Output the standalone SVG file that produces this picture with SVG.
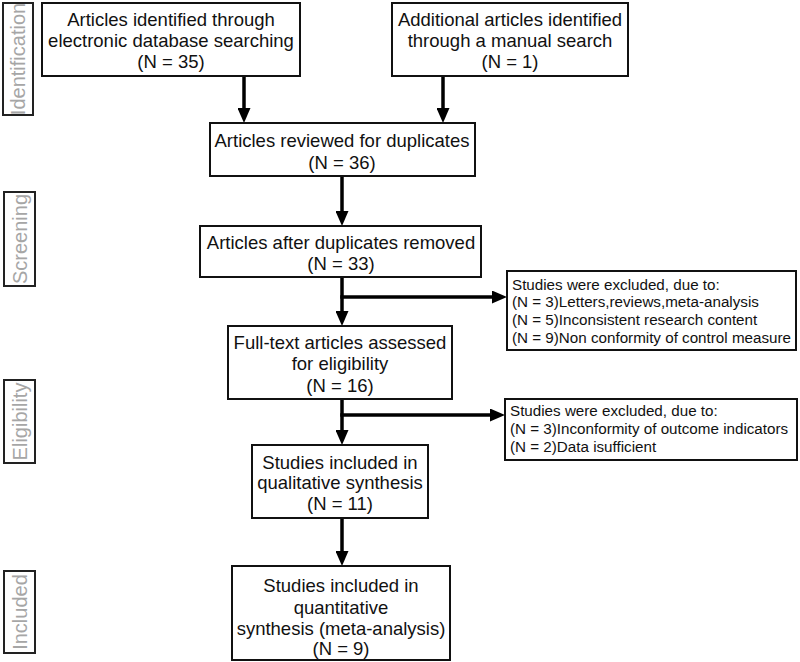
<svg xmlns="http://www.w3.org/2000/svg" width="800" height="662" viewBox="0 0 800 662">
<style>
.box{fill:#fff;stroke:#111;stroke-width:2}
.t{font-family:"Liberation Sans",Arial,sans-serif;font-size:18.5px;fill:#111;text-anchor:middle}
.e{font-family:"Liberation Sans",Arial,sans-serif;font-size:15.2px;fill:#111}
.side{fill:#fff;stroke:#222;stroke-width:2}
.s{font-family:"Liberation Sans",Arial,sans-serif;font-size:20px;fill:#a6a6a6;text-anchor:middle}
.c{stroke:#000;stroke-width:3.5;fill:none}
</style>
<defs>
<marker id="ah" markerUnits="userSpaceOnUse" markerWidth="15" markerHeight="13" refX="0" refY="6.5" orient="auto">
<path d="M0,0 L15,6.5 L0,13 z" fill="#000"/>
</marker>
</defs>
<rect width="800" height="662" fill="#fff"/>

<g id="side-identification"><rect class="side" x="3" y="3" width="30" height="112"/><text class="s" transform="translate(25,59) rotate(-90)">Identification</text></g>
<g id="side-screening"><rect class="side" x="4" y="192" width="31" height="94"/><text class="s" transform="translate(26.5,239) rotate(-90)">Screening</text></g>
<g id="side-eligibility"><rect class="side" x="4" y="380" width="31" height="83"/><text class="s" transform="translate(26.5,421.5) rotate(-90)">Eligibility</text></g>
<g id="side-included"><rect class="side" x="4" y="571" width="31" height="82"/><text class="s" transform="translate(26.5,612) rotate(-90)">Included</text></g>

<g id="connectors">
<line class="c" x1="244" y1="76" x2="244" y2="108" marker-end="url(#ah)"/>
<line class="c" x1="443" y1="76" x2="443" y2="108" marker-end="url(#ah)"/>
<line class="c" x1="342" y1="176" x2="342" y2="211" marker-end="url(#ah)"/>
<line class="c" x1="342" y1="277" x2="342" y2="311" marker-end="url(#ah)"/>
<line class="c" x1="340.25" y1="297" x2="492" y2="297" marker-end="url(#ah)"/>
<line class="c" x1="342" y1="399" x2="342" y2="430" marker-end="url(#ah)"/>
<line class="c" x1="340.25" y1="415" x2="490" y2="415" marker-end="url(#ah)"/>
<line class="c" x1="342" y1="518" x2="342" y2="551" marker-end="url(#ah)"/>
</g>

<g id="n1"><rect class="box" x="42" y="3" width="258" height="73"/>
<text class="t" x="171" y="26">Articles identified through</text>
<text class="t" x="171" y="47">electronic database searching</text>
<text class="t" x="171" y="68">(N = 35)</text></g>

<g id="n2"><rect class="box" x="392" y="3" width="236" height="73"/>
<text class="t" x="510" y="26">Additional articles identified</text>
<text class="t" x="510" y="47">through a manual search</text>
<text class="t" x="510" y="68">(N = 1)</text></g>

<g id="n3"><rect class="box" x="210" y="123" width="265" height="53"/>
<text class="t" x="342" y="147">Articles reviewed for duplicates</text>
<text class="t" x="342" y="169">(N = 36)</text></g>

<g id="n4"><rect class="box" x="200" y="226" width="281" height="51"/>
<text class="t" x="341" y="249">Articles after duplicates removed</text>
<text class="t" x="341" y="270">(N = 33)</text></g>

<g id="n5"><rect class="box" x="228" y="326" width="224" height="73"/>
<text class="t" x="340" y="349">Full-text articles assessed</text>
<text class="t" x="340" y="370">for eligibility</text>
<text class="t" x="340" y="392">(N = 16)</text></g>

<g id="n6"><rect class="box" x="252" y="445" width="176" height="73"/>
<text class="t" x="340" y="469">Studies included in</text>
<text class="t" x="340" y="489">qualitative synthesis</text>
<text class="t" x="340" y="510">(N = 11)</text></g>

<g id="n7"><rect class="box" x="232" y="566" width="218" height="94"/>
<text class="t" x="341" y="592">Studies included in</text>
<text class="t" x="341" y="614">quantitative</text>
<text class="t" x="341" y="635">synthesis (meta-analysis)</text>
<text class="t" x="341" y="655">(N = 9)</text></g>

<g id="x1"><rect class="box" x="507" y="271" width="289" height="79"/>
<text class="e" x="512" y="290">Studies were excluded, due to:</text>
<text class="e" x="512" y="307">(N = 3)Letters,reviews,meta-analysis</text>
<text class="e" x="512" y="325">(N = 5)Inconsistent research content</text>
<text class="e" x="512" y="343">(N = 9)Non conformity of control measure</text></g>

<g id="x2"><rect class="box" x="505" y="399" width="292" height="61"/>
<text class="e" x="510" y="416">Studies were excluded, due to:</text>
<text class="e" x="510" y="434">(N = 3)Inconformity of outcome indicators</text>
<text class="e" x="510" y="452">(N = 2)Data isufficient</text></g>
</svg>
